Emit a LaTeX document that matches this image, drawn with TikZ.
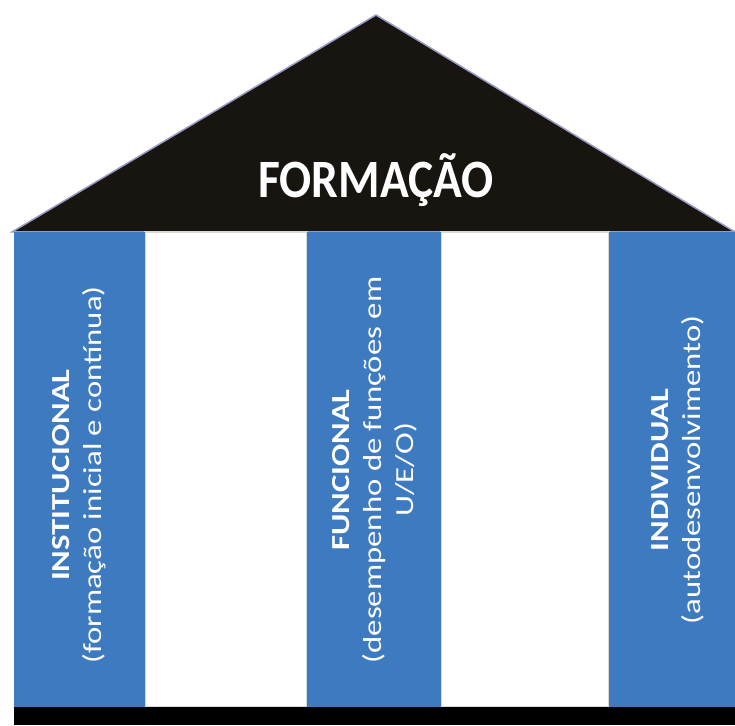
\documentclass[tikz,border=0pt]{standalone}
\usepackage{fontspec}
\setmainfont{Carlito}
\usepackage{tikz}

\definecolor{pillarblue}{RGB}{62,122,192}
\definecolor{roofblack}{RGB}{24,20,15}

\begin{document}
\begin{tikzpicture}[x=1pt,y=1pt,
    pillar/.style={fill=pillarblue,draw=none},
    gap/.style={fill=white,draw=black!15,line width=1.2pt},
    pillartext/.style={rotate=90,xscale=1.26,text=white,align=center,inner sep=0,font=\fontsize{26}{32}\selectfont}]
        \useasboundingbox (0,0) rectangle (735,725);
        % roof
        \fill[roofblack,draw=black!55!blue!40,line width=1.5pt] (12,493) -- (376,710) -- (735,493) -- cycle;
        \node[text=white,anchor=base,xscale=0.88,font=\fontsize{54}{60}\selectfont\bfseries] (roof) at (376,527) {FORMAÇÃO};
        % pillars and gaps
        \draw[gap] (145,18) rectangle (307,493);
        \draw[gap] (441,18) rectangle (609,493);
        \fill[pillar] (14,18) rectangle (145,493);
        \fill[pillar] (307,18) rectangle (441,493);
        \fill[pillar] (609,18) rectangle (735,493);
        \node[pillartext] (inst) at (79,250) {\textbf{INSTITUCIONAL}\\(formação inicial e contínua)};
        \node[pillartext] (func) at (375,255) {\textbf{FUNCIONAL}\\(desempenho de funções em\\U/E/O)};
        \node[pillartext] (indiv) at (678,255) {\textbf{INDIVIDUAL}\\(autodesenvolvimento)};
        % base
        \fill[black] (14,0) rectangle (735,18);
      \end{tikzpicture}
\end{document}
